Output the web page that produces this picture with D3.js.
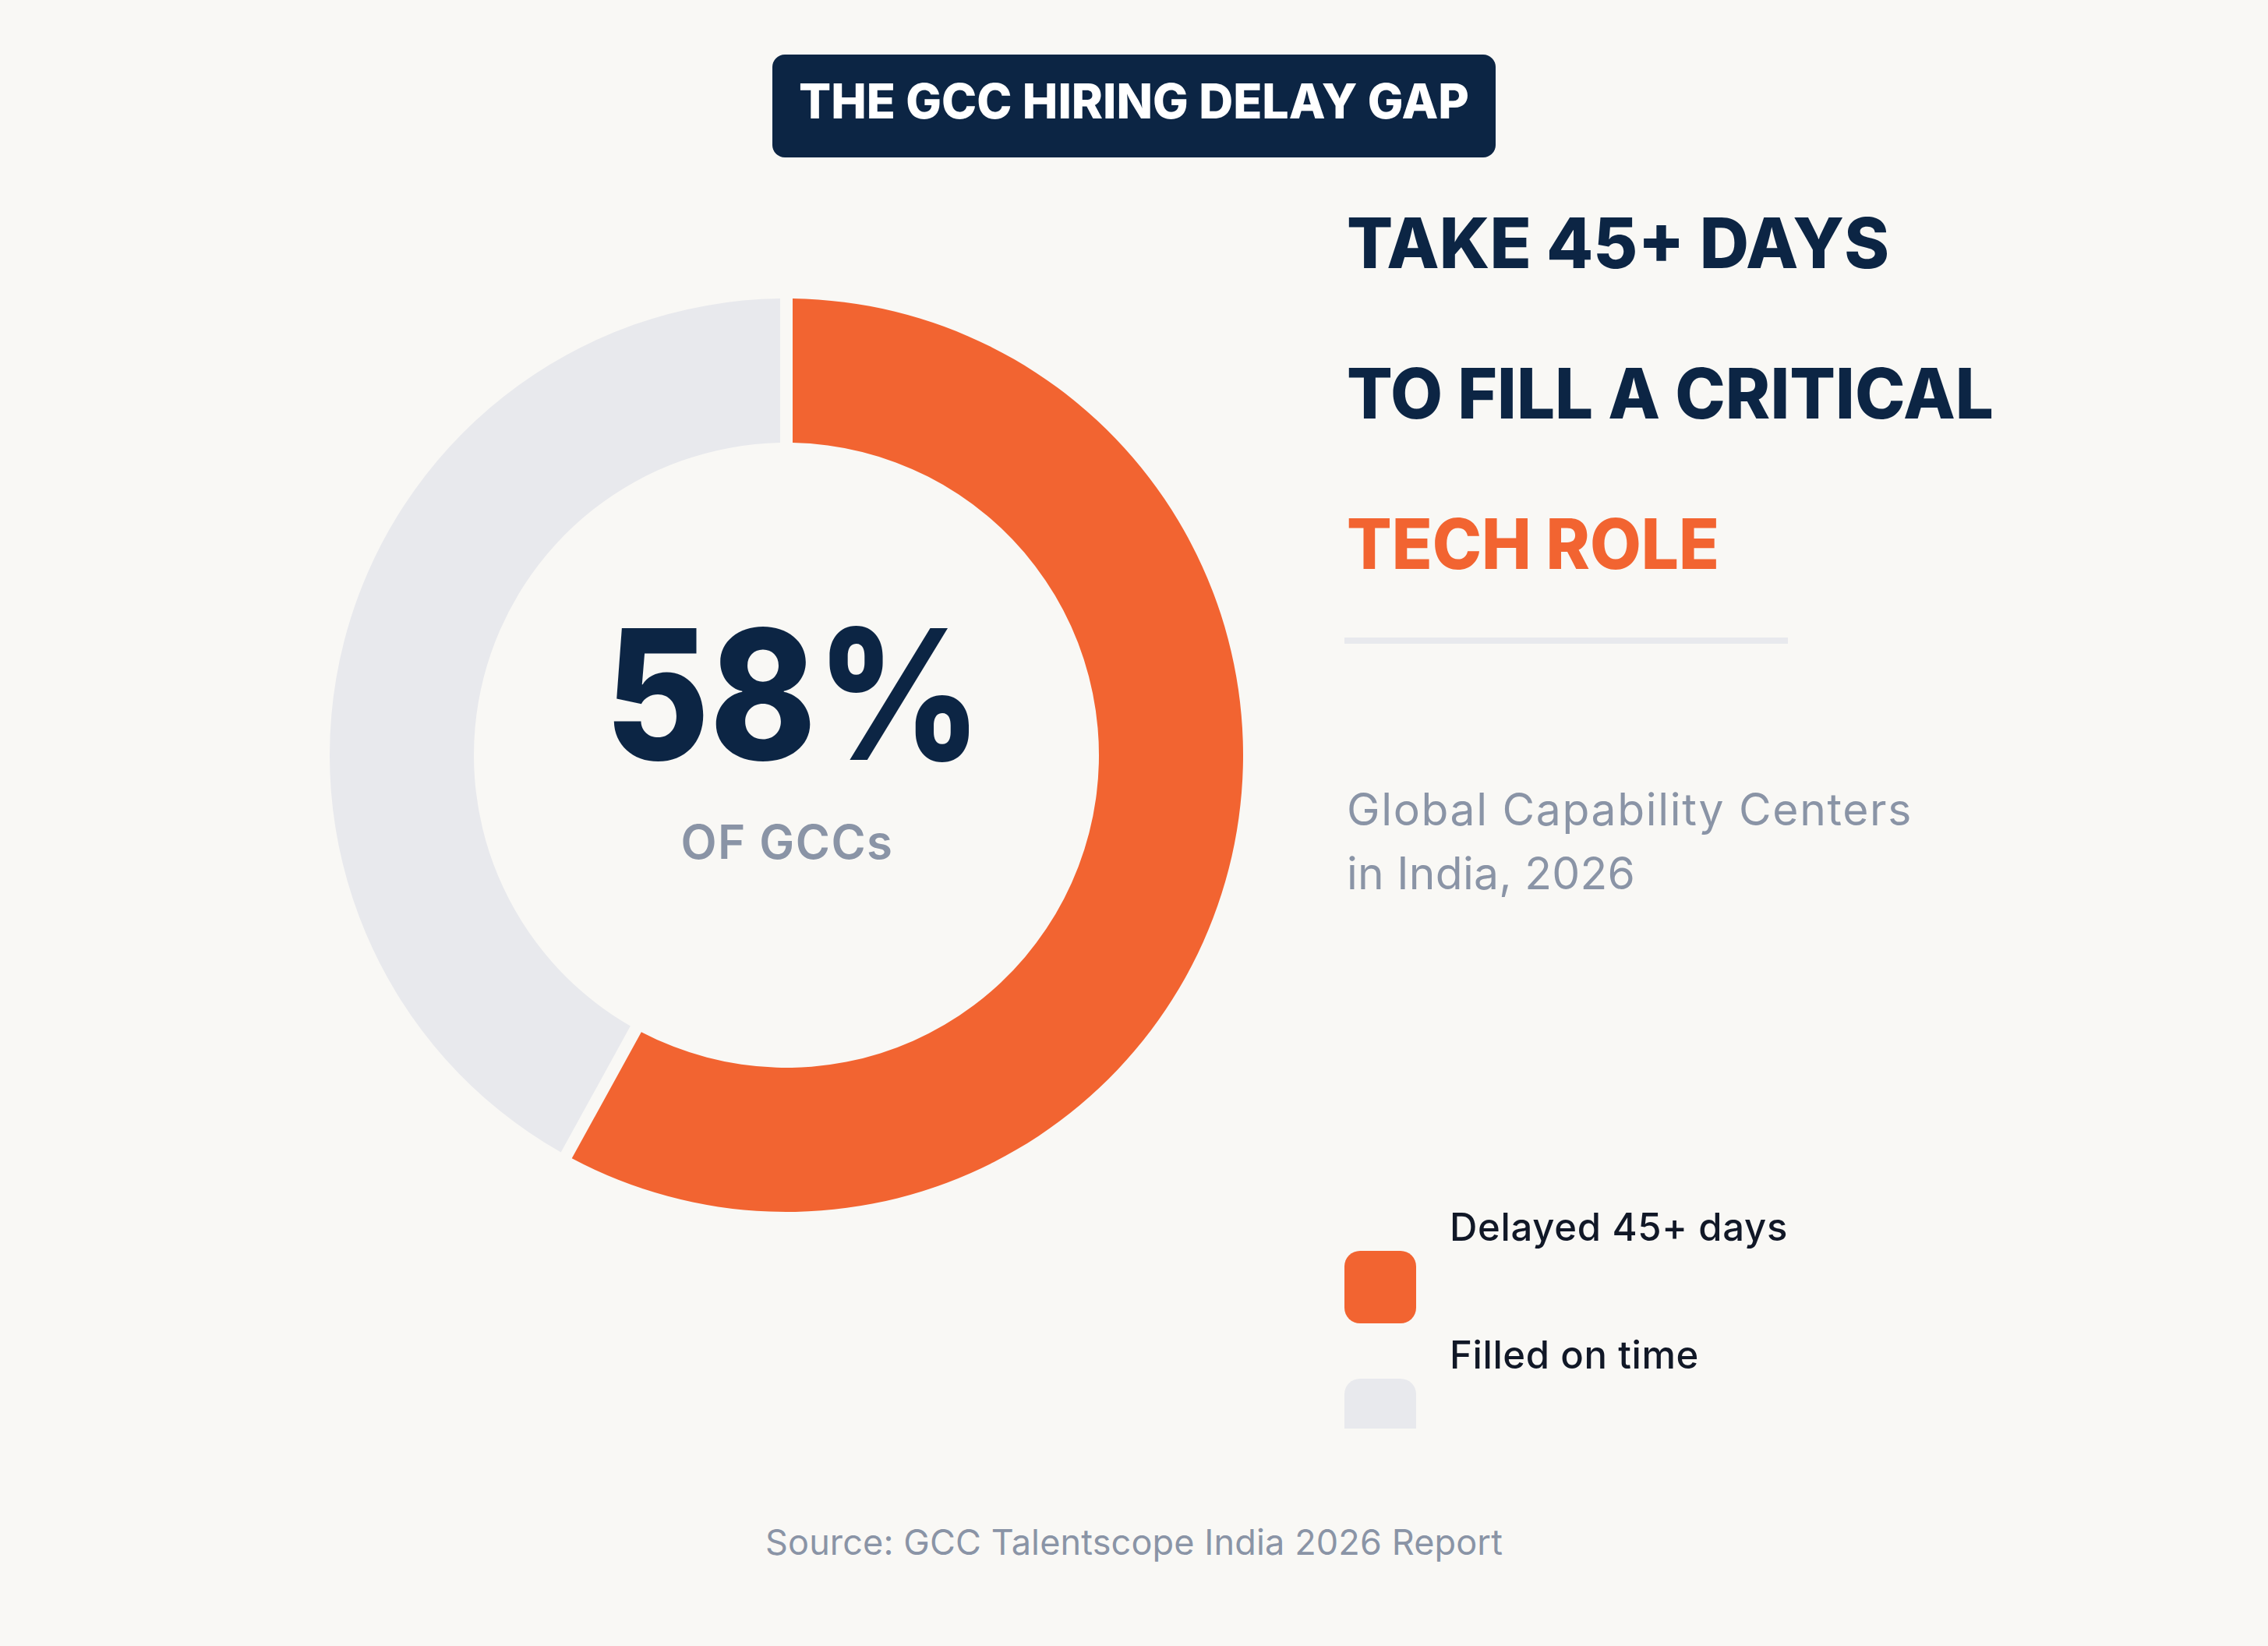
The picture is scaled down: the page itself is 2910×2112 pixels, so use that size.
<!DOCTYPE html>
<html>
<head>
<meta charset="utf-8">
<script src="https://cdn.jsdelivr.net/npm/d3@7"></script>
<style>
  html, body { margin: 0; padding: 0; background: #f9f8f5; }
  svg { display: block; }
  text { font-family: Inter, "Open Sans", sans-serif; }
</style>
</head>
<body>
<svg id="chart" width="2910" height="2112"></svg>
<script>
// data
const categories = ['Delayed 45+ days', 'Filled on time'];
const values = [58, 42];
const colors = ['#f26431', '#e8e9ed'];
const headlineLines = ['TAKE 45+ DAYS', 'TO FILL A CRITICAL', 'TECH ROLE'];
const subtitleLines = ['Global Capability Centers', 'in India, 2026'];
const title = 'THE GCC HIRING DELAY GAP';
const bigNumber = '58%';
const bigNumberLabel = 'OF GCCs';
const source = 'Source: GCC Talentscope India 2026 Report';

const navy = '#0c2544';
const greyText = '#8a94a6';

const svg = d3.select('#chart');
const width = +svg.attr('width');

svg.append('rect')
  .attr('width', width)
  .attr('height', +svg.attr('height'))
  .attr('fill', '#f9f8f5');

// make a text land on the width seen in the reference:
// open up letter spacing if too narrow, squeeze the glyphs if too wide
function fit(sel, target) {
  const n = sel.text().length;
  const w = sel.node().getComputedTextLength();
  if (w < target) {
    sel.attr('letter-spacing', (target - w) / n);
  } else {
    sel.attr('textLength', target).attr('lengthAdjust', 'spacingAndGlyphs');
  }
}

// title badge
svg.append('rect')
  .attr('x', 991).attr('y', 70)
  .attr('width', 928).attr('height', 132)
  .attr('rx', 16)
  .attr('fill', navy);

svg.append('text')
  .attr('x', width / 2)
  .attr('y', 152)
  .attr('text-anchor', 'middle')
  .attr('font-size', 62)
  .attr('font-weight', 800)
  .attr('fill', '#ffffff')
  .text(title)
  .call(fit, 860);

// donut
const cx = 1009, cy = 969;
const pie = d3.pie().sort(null).value(d => d);
const arc = d3.arc()
  .innerRadius(401)
  .outerRadius(586)
  .padRadius(600)
  .padAngle(16 / 600);

svg.append('g')
  .attr('transform', `translate(${cx},${cy})`)
  .selectAll('path')
  .data(pie(values))
  .join('path')
  .attr('d', arc)
  .attr('fill', (d, i) => colors[i]);

svg.append('text')
  .attr('x', 1018)
  .attr('y', 975)
  .attr('text-anchor', 'middle')
  .attr('font-size', 232)
  .attr('font-weight', 800)
  .attr('fill', navy)
  .text(bigNumber)
  .call(fit, 484);

svg.append('text')
  .attr('x', 1010)
  .attr('y', 1102)
  .attr('text-anchor', 'middle')
  .attr('font-size', 60)
  .attr('font-weight', 600)
  .attr('fill', greyText)
  .text(bigNumberLabel)
  .call(fit, 273);

// headline on the right
const headWidths = [696, 830, 478];
headlineLines.forEach((line, i) => {
  svg.append('text')
    .attr('x', 1728)
    .attr('y', 344 + i * 193)
    .attr('font-size', 89)
    .attr('font-weight', 800)
    .attr('fill', i === 2 ? colors[0] : navy)
    .text(line)
    .call(fit, headWidths[i]);
});

svg.append('rect')
  .attr('x', 1725).attr('y', 818)
  .attr('width', 569).attr('height', 8)
  .attr('fill', '#e8e9ed');

const subWidths = [726, 370];
subtitleLines.forEach((line, i) => {
  svg.append('text')
    .attr('x', 1728)
    .attr('y', 1059 + i * 82)
    .attr('font-size', 57)
    .attr('font-weight', 400)
    .attr('fill', greyText)
    .text(line)
    .call(fit, subWidths[i]);
});

// legend (clipped at the bottom like the reference)
svg.append('clipPath')
  .attr('id', 'legend-clip')
  .append('rect')
  .attr('x', 1700).attr('y', 1500)
  .attr('width', 800).attr('height', 333);

const legend = svg.append('g').attr('clip-path', 'url(#legend-clip)');
const legendWidths = [434, 320];

categories.forEach((c, i) => {
  const y0 = 1592 + i * 164;
  legend.append('text')
    .attr('x', 1860)
    .attr('y', y0)
    .attr('font-size', 49)
    .attr('font-weight', 500)
    .attr('fill', '#111827')
    .text(c)
    .call(fit, legendWidths[i]);
  legend.append('rect')
    .attr('x', 1725)
    .attr('y', y0 + 13)
    .attr('width', 92).attr('height', 93)
    .attr('rx', 20)
    .attr('fill', colors[i]);
});

svg.append('text')
  .attr('x', width / 2)
  .attr('y', 1995)
  .attr('text-anchor', 'middle')
  .attr('font-size', 45)
  .attr('font-weight', 400)
  .attr('fill', greyText)
  .text(source)
  .call(fit, 946);
</script>
</body>
</html>
